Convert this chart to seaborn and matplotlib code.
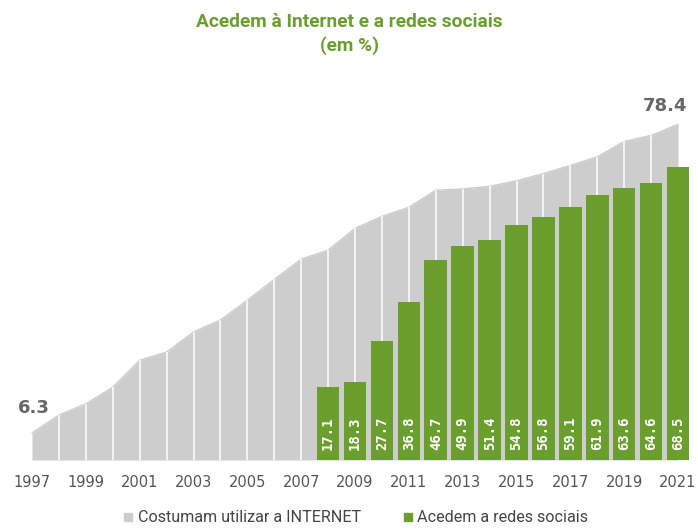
import matplotlib
matplotlib.use("Agg")
import matplotlib.pyplot as plt
from matplotlib.lines import Line2D
import seaborn as sns
import pandas as pd

# ---- data ----
years_internet = list(range(1997, 2022))
internet = [6.3, 10.5, 13.1, 17.0, 23.3, 25.2, 29.9, 32.7, 37.3, 42.2, 46.9,
            49.0, 54.1, 56.9, 59.0, 63.0, 63.3, 63.9, 65.2, 66.9, 68.8, 70.8,
            74.4, 75.8, 78.4]
years_social = list(range(2008, 2022))
social = [17.1, 18.3, 27.7, 36.8, 46.7, 49.9, 51.4, 54.8, 56.8, 59.1, 61.9,
          63.6, 64.6, 68.5]
tick_years = list(range(1997, 2022, 2))
title_text = "Acedem à Internet e a redes sociais\n(em %)"
legend_labels = ["Costumam utilizar a INTERNET", "Acedem a redes sociais"]

GREEN = "#6a9f2e"
GRAY = "#cdcdcd"

sns.set_theme(style="white")
plt.rcParams["font.family"] = ["DejaVu Sans"]

fig = plt.figure(figsize=(6.98, 5.29), dpi=100)
W, H = 698, 529
ax = fig.add_axes([15.85 / W, 69 / H, 681.0 / W, 364 / H])

df_i = pd.DataFrame({"year": years_internet, "value": internet})
df_s = pd.DataFrame({"year": years_social, "value": social})

# gray area
ax.fill_between(df_i["year"], 0, df_i["value"], color=GRAY, lw=0, zorder=1)
sns.lineplot(data=df_i, x="year", y="value", ax=ax, color=GRAY, lw=1, zorder=1)
ax.vlines(df_i["year"][1:-1], 0, df_i["value"][1:-1], color="white", lw=1.1, zorder=2)

# green bars
sns.barplot(data=df_s, x="year", y="value", ax=ax, native_scale=True,
            color=GREEN, width=0.84, saturation=1, zorder=3,
            edgecolor=GREEN, linewidth=0)

for y, v in zip(years_social, social):
    ax.text(y, 2.4, f"{v:.1f}", rotation=90, ha="center", va="bottom",
            color="white", fontsize=10, fontweight="bold",
            family="DejaVu Sans Mono", zorder=4)

# end labels
ax.annotate(f"{internet[0]:.1f}", (years_internet[0], internet[0]),
            xytext=(2, 25), textcoords="offset pixels", ha="center", va="center",
            fontsize=13, fontweight="bold", color="#666666")
ax.annotate(f"{internet[-1]:.1f}", (years_internet[-1], internet[-1]),
            xytext=(-13, 18), textcoords="offset pixels", ha="center", va="center",
            fontsize=13, fontweight="bold", color="#666666")

ax.set_xlim(1996.4, 2021.7)
ax.set_ylim(0, 85)
ax.set_xticks(tick_years)
ax.set_xticklabels([str(t) for t in tick_years], fontsize=10.5, color="#555555")
ax.tick_params(axis="x", length=0, pad=11)
ax.set_yticks([])
ax.set_xlabel("")
ax.set_ylabel("")
for s in ax.spines.values():
    s.set_visible(False)

fig.suptitle(title_text, y=1 - 13 / H, va="top", fontsize=13.8, fontweight="bold",
             color=GREEN, family="Roboto", linespacing=1.35)

handles = [Line2D([], [], marker="s", ls="", color=GRAY, markersize=6),
           Line2D([], [], marker="s", ls="", color=GREEN, markersize=6)]
fig.legend(handles, legend_labels, loc="center", bbox_to_anchor=(355 / W, 1 - 518 / H),
           ncol=2, frameon=False, prop={"family": "Roboto", "size": 11.6},
           labelcolor="#444444", handletextpad=0.2, columnspacing=2.5,
           handlelength=0.8)

fig.savefig("out.png", dpi=100)
